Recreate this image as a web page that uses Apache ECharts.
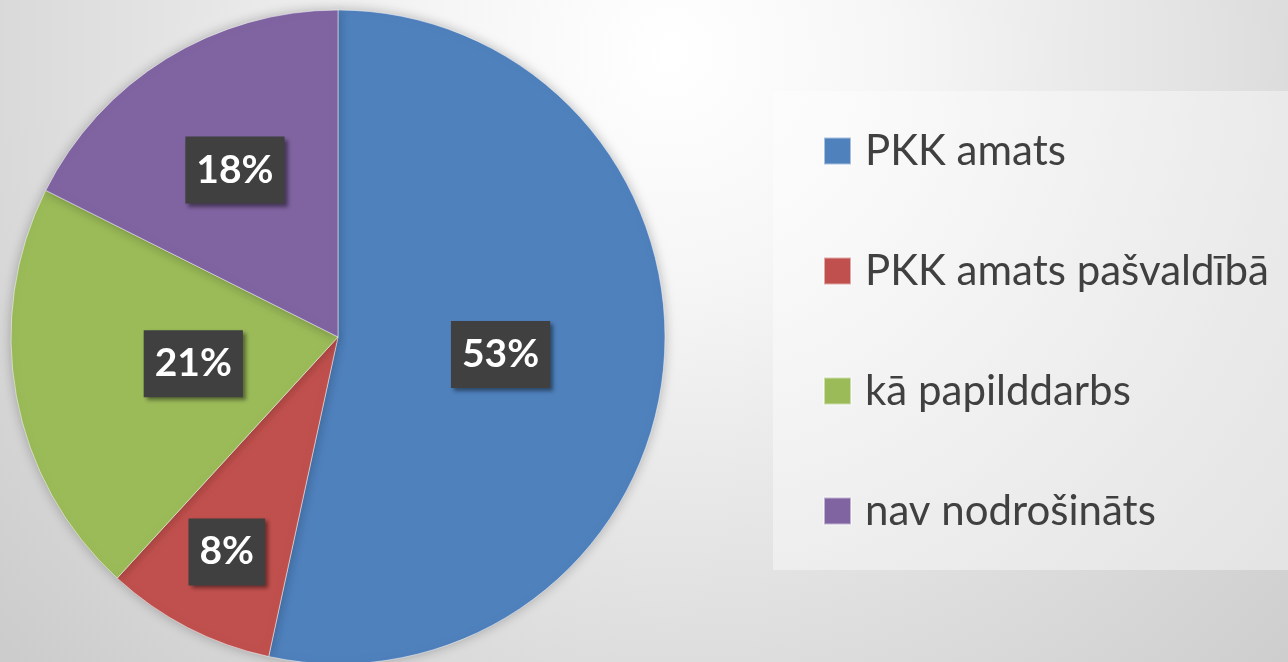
<!DOCTYPE html>
<html>
<head>
<meta charset="utf-8">
<script src="https://cdn.jsdelivr.net/npm/echarts@6/dist/echarts.min.js"></script>
<style>
  html, body { margin: 0; padding: 0; }
  #main { width: 1288px; height: 662px; }
</style>
</head>
<body>
<div id="main"></div>
<script>
// kategorijas un vērtības (procenti, etiķetēs noapaļoti)
var categories = ['PKK amats', 'PKK amats pašvaldībā', 'kā papilddarbs', 'nav nodrošināts'];
var values = [53.4, 8.4, 20.6, 17.6];
var colors = ['#4F81BD', '#C0504D', '#9BBB59', '#8064A2'];

// etiķešu attālums no centra (daļa no rādiusa), kā oriģinālā
var labelDist = [0.5, 0.74, 0.45, 0.6];

var cx = 338, cy = 337, R = 327;

var myChart = echarts.init(document.getElementById('main'));

var total = values.reduce(function (a, b) { return a + b; }, 0);

function labelPos(idx) {
    var before = 0;
    for (var i = 0; i < idx; i++) before += values[i];
    var mid = (before + values[idx] / 2) / total * Math.PI * 2;
    // sākums augšā, pulksteņrādītāja virzienā
    var r = R * labelDist[idx];
    return { x: cx + r * Math.sin(mid), y: cy - r * Math.cos(mid) };
}

var option = {
    backgroundColor: {
        type: 'radial', x: 0.52, y: 0.08, r: 1.35,
        colorStops: [
            { offset: 0, color: '#ffffff' },
            { offset: 0.25, color: '#f6f6f6' },
            { offset: 0.7, color: '#dcdcdc' },
            { offset: 1, color: '#cccccc' }
        ]
    },
    color: colors,
    legend: {
        orient: 'vertical',
        left: 773,
        top: 91,
        padding: [35, 30, 34, 50],
        backgroundColor: 'rgba(255,255,255,0.4)',
        icon: 'rect',
        itemWidth: 27,
        itemHeight: 27,
        itemGap: 70,
        textStyle: {
            fontFamily: 'Lato',
            fontSize: 42,
            lineHeight: 50,
            color: '#404040',
            padding: [0, 0, 0, 9]
        },
        data: categories
    },
    series: [{
        type: 'pie',
        center: [cx, cy],
        radius: R,
        startAngle: 90,
        clockwise: true,
        silent: true,
        animation: false,
        itemStyle: {
            borderColor: 'rgba(255,255,255,0.5)',
            borderWidth: 1,
            shadowBlur: 12,
            shadowColor: 'rgba(0,0,0,0.25)'
        },
        label: {
            position: 'inside',
            formatter: function (p) { return Math.round(p.value) + '%'; },
            fontFamily: 'Lato',
            fontWeight: 'bold',
            fontSize: 39,
            lineHeight: 43,
            color: '#ffffff',
            backgroundColor: '#404040',
            padding: [12, 11, 12, 11],
            shadowColor: 'rgba(0,0,0,0.45)',
            shadowBlur: 4,
            shadowOffsetX: 3,
            shadowOffsetY: 3
        },
        labelLine: { show: false },
        labelLayout: function (params) {
            var p = labelPos(params.dataIndex);
            return { x: p.x, y: p.y, align: 'center', verticalAlign: 'middle' };
        },
        data: categories.map(function (name, i) {
            return { name: name, value: values[i] };
        })
    }]
};

myChart.setOption(option);
</script>
</body>
</html>
